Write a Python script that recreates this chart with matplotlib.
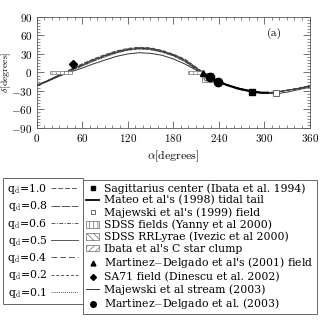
import matplotlib
matplotlib.use("Agg")
import matplotlib.pyplot as plt
from matplotlib.lines import Line2D
from matplotlib.patches import Patch, Rectangle
from matplotlib.ticker import MultipleLocator

plt.rcParams['font.family'] = ['cmr10', 'DejaVu Serif']
plt.rcParams['mathtext.fontset'] = 'cm'
plt.rcParams['axes.formatter.use_mathtext'] = True
plt.rcParams['hatch.linewidth'] = 0.5
plt.rcParams['hatch.color'] = '0.35'

# orbit models (alpha, delta in degrees) for each q_d
alpha = [0, 15, 30, 45, 60, 75, 90, 105, 120, 135, 150, 165, 180,
         195, 210, 225, 240, 255, 270, 285, 300, 315, 330, 345, 360]
d_q10 = [-21, -13, -4, 5, 14, 22, 29, 35, 39, 41, 40, 36, 30,
         22, 9, -5, -15, -22, -27, -31, -33, -32, -29, -26, -22]
d_q08 = [-21, -13, -4, 5, 13, 21, 28, 34, 38, 40, 39, 35, 29,
         21, 8, -5, -15, -22, -27, -31, -33, -32, -29, -26, -22]
d_q06 = [-21, -13, -4, 4, 12, 20, 27, 33, 38, 40, 39, 35, 29,
         20, 7, -5, -15, -22, -27, -31, -33, -32, -29, -26, -22]
d_q05 = [-21, -13, -5, 4, 12, 20, 27, 33, 37, 39, 38, 34, 28,
         20, 7, -6, -15, -22, -27, -31, -33, -32, -29, -26, -22]
d_q04 = [-21, -14, -5, 3, 11, 19, 26, 32, 37, 39, 38, 34, 28,
         19, 6, -6, -15, -22, -27, -31, -33, -32, -29, -26, -22]
d_q02 = [-22, -14, -5, 3, 11, 19, 26, 32, 36, 38, 37, 33, 27,
         18, 5, -6, -16, -22, -27, -31, -33, -32, -29, -26, -22]
d_q01 = [-22, -14, -6, 2, 10, 18, 25, 31, 36, 38, 37, 33, 27,
         18, 5, -7, -16, -22, -27, -31, -33, -32, -29, -26, -22]

# Majewski et al stream (2003)
d_stream = [-22, -14, -6, 1, 7, 14, 20, 26, 30, 32, 31, 28, 22,
            14, 4, -6, -15, -22, -28, -31, -33, -35, -32, -28, -24]

# Mateo et al tidal tail
a_mateo = [235, 250, 265, 280, 295, 305]
d_mateo = [-12, -20, -26, -30, -33, -33]

sgr_center = (284, -31)
majewski99 = (316, -34)
md2001 = (219, -1)
sa71 = (48, 14)
md2003_a = [228, 239]
md2003_d = [-8, -15]

# hatched regions: (alpha0, delta0, width, height)
sdss_yanny = [(18, -2, 29, 4), (200, -2, 20, 4)]
sdss_ivezic = (218, -15, 14, 14)
ibata_clump = (221, -12, 10, 10)

q_labels = ['1.0', '0.8', '0.6', '0.5', '0.4', '0.2', '0.1']
q_curves = [d_q10, d_q08, d_q06, d_q05, d_q04, d_q02, d_q01]
q_styles = [(0, (5, 2)), (0, (9, 1.5)), (0, (4, 1.5, 1, 1.5)), '-',
            (0, (6, 3)), (0, (3, 2)), (0, (1, 1))]

fig = plt.figure(figsize=(3.27, 3.27), dpi=100)
ax = fig.add_axes([0.112, 0.609, 0.835, 0.339])

q_handles = []
for d, ls in zip(q_curves, q_styles):
    ax.plot(alpha, d, ls=ls, color='0.25', lw=0.6)
    q_handles.append(Line2D([], [], ls=ls, color='0.35', lw=0.7))

ax.plot(alpha, d_stream, '-', color='0.2', lw=0.7)
ax.plot(a_mateo, d_mateo, '-', color='black', lw=1.6)

for (x0, y0, w, h) in sdss_yanny:
    ax.add_patch(Rectangle((x0, y0), w, h, facecolor='white', edgecolor='0.45',
                           hatch='||||', lw=0.5, zorder=3))
ax.add_patch(Rectangle(sdss_ivezic[:2], sdss_ivezic[2], sdss_ivezic[3], facecolor='none',
                       edgecolor='0.4', hatch='\\\\\\\\', lw=0.5, zorder=3))
ax.add_patch(Rectangle(ibata_clump[:2], ibata_clump[2], ibata_clump[3], facecolor='none',
                       edgecolor='0.4', hatch='////', lw=0.5, zorder=3))

ax.plot(*sgr_center, 's', color='black', ms=4, zorder=5)
ax.plot(*majewski99, 's', mfc='white', mec='0.3', ms=4, mew=0.6, zorder=5)
ax.plot(*md2001, '^', color='black', ms=4, zorder=5)
ax.plot(*sa71, 'D', color='black', ms=4, zorder=5)
ax.plot(md2003_a, md2003_d, 'o', color='black', ms=6, ls='none', zorder=5)

ax.set_xlim(0, 360)
ax.set_ylim(-90, 90)
ax.xaxis.set_major_locator(MultipleLocator(60))
ax.xaxis.set_minor_locator(MultipleLocator(10))
ax.yaxis.set_major_locator(MultipleLocator(30))
ax.yaxis.set_minor_locator(MultipleLocator(5))
ax.tick_params(which='both', direction='in', top=True, right=True,
               color='0.35', labelsize=8, pad=3)
ax.tick_params(which='major', length=5, width=0.6)
ax.tick_params(which='minor', length=2.5, width=0.5)
for s in ax.spines.values():
    s.set_linewidth(0.6)
    s.set_color('0.35')
ax.set_xlabel(r'$\alpha$[degrees]', fontsize=8.5, labelpad=3)
ax.set_ylabel(r'$\delta$[degrees]', fontsize=7)
ax.yaxis.set_label_coords(-0.085, 0.5)
ax.text(313, 63, '(a)', fontsize=8.5, ha='center', va='center')

leg_font = {'family': 'DejaVu Serif', 'size': 7.8}

leg1 = fig.legend(q_handles, [r'q$_{\rm d}$=' + q for q in q_labels],
                  loc='upper left', bbox_to_anchor=(0.009, 0.456),
                  bbox_transform=fig.transFigure, borderaxespad=0,
                  markerfirst=False, handlelength=2.5, handletextpad=0.35,
                  labelspacing=0.3, prop=leg_font, fancybox=False,
                  edgecolor='0.4', framealpha=1, borderpad=0.4)
leg1.get_frame().set_linewidth(0.7)

src_labels = ['Sagittarius center (Ibata et al. 1994)',
              "Mateo et al's (1998) tidal tail",
              "Majewski et al's (1999) field",
              'SDSS fields (Yanny et al 2000)',
              'SDSS RRLyrae (Ivezic et al 2000)',
              "Ibata et al's C star clump",
              r"Martinez$-$Delgado et al's (2001) field",
              'SA71 field (Dinescu et al. 2002)',
              'Majewski et al stream (2003)',
              r'Martinez$-$Delgado et al. (2003)']
src_handles = [
    Line2D([], [], marker='s', ls='none', color='black', ms=3),
    Line2D([], [], ls='-', color='black', lw=1.3),
    Line2D([], [], marker='s', ls='none', mfc='white', mec='0.3', ms=3, mew=0.6),
    Patch(facecolor='white', edgecolor='0.4', hatch='||||', lw=0.5),
    Patch(facecolor='white', edgecolor='0.4', hatch='\\\\\\\\\\', lw=0.5),
    Patch(facecolor='white', edgecolor='0.4', hatch='/////', lw=0.5),
    Line2D([], [], marker='^', ls='none', color='black', ms=3.5),
    Line2D([], [], marker='D', ls='none', color='black', ms=3),
    Line2D([], [], ls='-', color='0.2', lw=0.7),
    Line2D([], [], marker='o', ls='none', color='black', ms=4),
]
leg2 = fig.legend(src_handles, src_labels,
                  loc='upper left', bbox_to_anchor=(0.254, 0.450),
                  bbox_transform=fig.transFigure, borderaxespad=0,
                  handlelength=1.2, handleheight=0.6, handletextpad=0.45,
                  labelspacing=0.15, prop=leg_font, fancybox=False,
                  edgecolor='0.4', framealpha=1, borderpad=0.3)
leg2.get_frame().set_linewidth(0.7)

fig.savefig('out.png', dpi=100)
